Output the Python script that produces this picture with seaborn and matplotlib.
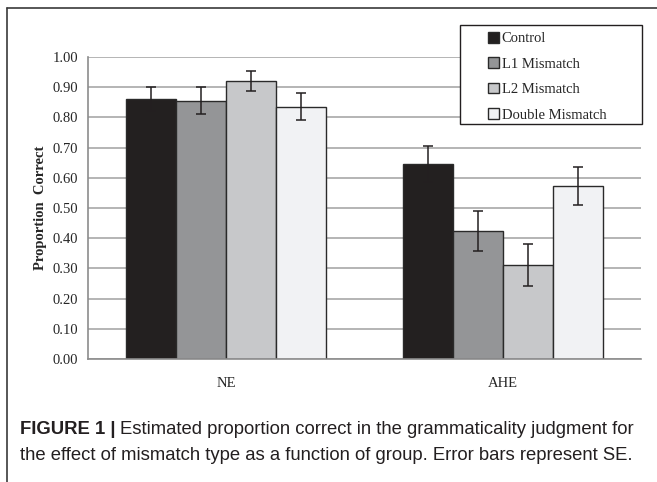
import pandas as pd
import numpy as np
import matplotlib
matplotlib.use("Agg")
import matplotlib.pyplot as plt
import seaborn as sns
from matplotlib.lines import Line2D
from matplotlib.patches import Rectangle

# data
groups = ["NE", "AHE"]
conditions = ["Control", "L1 Mismatch", "L2 Mismatch", "Double Mismatch"]
ne_means = [0.86, 0.855, 0.92, 0.835]
ahe_means = [0.645, 0.424, 0.311, 0.572]
ne_se = [0.04, 0.045, 0.032, 0.045]
ahe_se = [0.06, 0.067, 0.07, 0.063]
colors = ["#231f20", "#939598", "#c7c8ca", "#f1f2f4"]

df = pd.DataFrame({
    "group": [g for g in groups for _ in conditions],
    "condition": conditions * 2,
    "mean": ne_means + ahe_means,
    "se": ne_se + ahe_se,
})

sns.set_style("white")
plt.rcParams["font.family"] = ["Liberation Serif", "DejaVu Serif"]

fig = plt.figure(figsize=(6.57, 4.82), dpi=100)
ax = fig.add_axes([88 / 657, 1 - 359 / 482, (641 - 88) / 657, (359 - 57) / 482])

sns.barplot(data=df, x="group", y="mean", hue="condition", order=groups,
            hue_order=conditions, palette=colors, errorbar=None,
            width=0.723, gap=0, edgecolor="#2a2a2a", linewidth=1.0, ax=ax)

# error bars at the centres of the drawn bars
handles, labels = ax.get_legend_handles_labels()
ax.get_legend().remove()
for i, cond in enumerate(conditions):
    sub = df[df["condition"] == cond].set_index("group").loc[groups]
    bars = ax.containers[i]
    xs = [b.get_x() + b.get_width() / 2 for b in bars]
    ax.errorbar(xs, sub["mean"], yerr=sub["se"], fmt="none", ecolor="#231f20",
                elinewidth=1.1, capsize=3.7, capthick=1.1, zorder=5)

ax.set_xlim(-0.5, 1.5)
ax.set_ylim(0, 1.0)
ax.set_yticks(np.arange(0, 1.01, 0.1))
ax.set_yticklabels([f"{v:.2f}" for v in np.arange(0, 1.01, 0.1)], fontsize=10.5)
ax.set_xticks([0, 1])
ax.set_xticklabels(groups, fontsize=10.5)
ax.set_xticks([-0.5, 0.5, 1.5], minor=True)
ax.tick_params(axis="x", which="major", length=0, pad=13)
ax.tick_params(axis="x", which="minor", length=5, width=1, color="#8c8c8c", direction="out")
ax.tick_params(axis="y", length=4, width=1, color="#8c8c8c", direction="out", pad=3)
ax.yaxis.grid(True, color="#a8a8a8", linewidth=1.2)
ax.set_axisbelow(True)
for s in ["top", "right"]:
    ax.spines[s].set_visible(False)
for s in ["left", "bottom"]:
    ax.spines[s].set_color("#8c8c8c")
    ax.spines[s].set_linewidth(1.2)
ax.set_xlabel("")
ax.set_ylabel("Proportion  Correct", fontsize=10.5, fontweight="bold", labelpad=4)

# legend box
fig.add_artist(Rectangle((460 / 657, 1 - 124 / 482), (642 - 460) / 657, (124 - 25) / 482,
                         transform=fig.transFigure, facecolor="white",
                         edgecolor="#231f20", linewidth=1.0, zorder=3))
fig.legend(handles, labels, loc="upper left", bbox_to_anchor=(488 / 657, 1 - 32 / 482),
           frameon=False, fontsize=10.5, handlelength=0.75, handleheight=0.75,
           handletextpad=0.2, labelspacing=0.82, borderpad=0, borderaxespad=0)

# outer frame
fig.add_artist(Line2D([7 / 657, 1], [1 - 8 / 482, 1 - 8 / 482], transform=fig.transFigure,
                      color="#3a3a3a", linewidth=1.2))
fig.add_artist(Line2D([7 / 657, 7 / 657], [0, 1 - 8 / 482], transform=fig.transFigure,
                      color="#3a3a3a", linewidth=1.2))

# caption
cap_font = ["Liberation Sans", "DejaVu Sans"]
cap_size = 13.3
t1 = fig.text(20 / 657, 1 - 430 / 482, "FIGURE 1 |", fontsize=cap_size, fontweight="bold",
              family=cap_font, color="#231f20", va="center")
fig.canvas.draw()
bb = t1.get_window_extent(renderer=fig.canvas.get_renderer())
fig.text((bb.x1 + 5) / 657, 1 - 430 / 482,
         "Estimated proportion correct in the grammaticality judgment for",
         fontsize=cap_size, family=cap_font, color="#231f20", va="center")
fig.text(20 / 657, 1 - 455 / 482,
         "the effect of mismatch type as a function of group. Error bars represent SE.",
         fontsize=cap_size, family=cap_font, color="#231f20", va="center")

fig.savefig("out.png", dpi=100)
